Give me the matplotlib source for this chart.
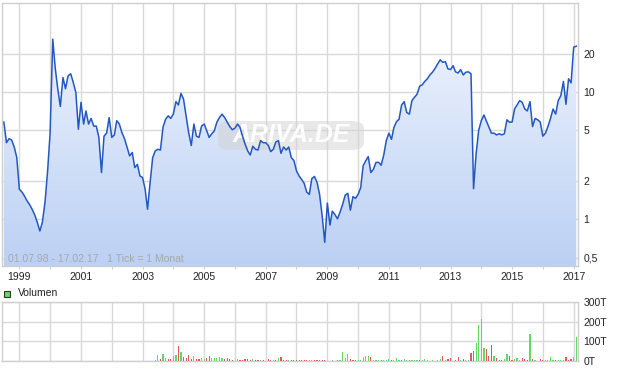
import numpy as np
import pandas as pd
import matplotlib
matplotlib.use('Agg')
import matplotlib.pyplot as plt
import matplotlib.dates as mdates
from matplotlib.patches import FancyBboxPatch, Rectangle
from matplotlib.colors import LinearSegmentedColormap
from matplotlib.image import AxesImage
from matplotlib.ticker import FixedLocator, FuncFormatter, NullLocator

plt.rcParams['font.family'] = ['Liberation Sans', 'DejaVu Sans']

# ---------------- data ----------------
start_month = '1998-07-01'
price = [
    5.8, 4.0, 4.3, 4.2, 3.7, 3.07, 1.72, 1.64, 1.53, 1.40, 1.31, 1.2,
    1.09, 0.95, 0.81, 0.95, 1.36, 2.35, 4.8, 26, 15.5, 10.5, 7.7, 13.0,
    10.6, 13.4, 13.9, 11.9, 9.9, 5.1, 8.3, 5.6, 7.1, 5.6, 6.2, 5.4,
    5.4, 4.4, 2.33, 4.5, 4.75, 6.3, 4.4, 4.6, 5.95, 5.6, 4.8, 4.3,
    3.7, 3.15, 3.35, 2.55, 2.7, 2.19, 2.13, 1.72, 1.2, 1.95, 3.05, 3.45,
    3.55, 3.5, 5.3, 6.1, 6.5, 6.2, 6.7, 8.4, 7.9, 9.75, 8.8, 6.5,
    4.8, 3.8, 5.6, 4.5, 4.4, 5.4, 5.6, 4.95, 4.4, 4.7, 4.95, 5.8,
    6.3, 6.7, 6.3, 5.8, 5.35, 5.05, 5.2, 5.6, 5.3, 4.5, 3.9, 3.45,
    3.2, 3.75, 3.55, 3.5, 4.15, 4.0, 4.0, 3.8, 3.4, 3.55, 4.05, 4.15,
    3.3, 3.7, 3.5, 3.7, 3.05, 2.9, 2.4, 2.19, 2.06, 1.92, 1.64, 1.57,
    2.09, 2.17, 1.95, 1.57, 1.06, 0.66, 1.34, 0.90, 1.16, 1.09, 1.01, 1.14,
    1.31, 1.55, 1.6, 1.18, 1.51, 1.46, 1.57, 1.78, 2.63, 2.88, 3.11, 2.33,
    2.47, 2.8, 2.8, 2.66, 3.2, 4.15, 4.75, 4.25, 5.25, 5.85, 6.1, 7.9,
    8.4, 6.9, 6.7, 8.55, 9.1, 9.6, 11.1, 11.4, 12.1, 12.7, 13.6, 14.3,
    15.3, 16.6, 17.9, 17.1, 17.3, 15.2, 15.0, 16.1, 14.4, 14.1, 15.0, 13.6,
    14.3, 14.4, 13.9, 1.74, 3.3, 5.0, 5.95, 6.6, 5.95, 5.3, 4.75, 4.75,
    4.6, 4.7, 4.6, 4.7, 6.05, 5.8, 5.8, 7.4, 7.9, 8.55, 8.3, 7.35,
    7.1, 8.4, 5.35, 6.2, 6.05, 5.8, 4.5, 4.75, 5.35, 6.2, 7.35, 6.7,
    8.55, 9.35, 12.1, 8.0, 12.7, 11.8, 22.5, 22.9,
]

vol_start_month = '2003-06-01'
volume_T = [
    7, 32, 12, 38, 17, 10, 12, 27, 32, 74, 48, 22,
    14, 32, 9, 27, 9, 9, 14, 12, 17, 27, 14, 14,
    17, 22, 17, 9, 14, 9, 3, 2, 12, 7, 7, 12,
    12, 7, 12, 3, 7, 7, 3, 0, 12, 3, 7, 3,
    17, 22, 3, 3, 7, 3, 3, 3, 3, 3, 7, 7,
    3, 3, 3, 3, 3, 3, 3, 0, 0, 7, 0, 3,
    3, 48, 17, 38, 12, 3, 7, 3, 3, 22, 27, 27,
    22, 3, 3, 3, 7, 3, 3, 12, 3, 7, 17, 7,
    3, 12, 3, 3, 7, 3, 7, 7, 7, 12, 7, 0,
    3, 0, 3, 12, 27, 3, 12, 17, 0, 3, 22, 7,
    12, 7, 7, 43, 53, 89, 181, 212, 68, 63, 27, 79,
    27, 17, 7, 7, 12, 38, 27, 7, 12, 17, 7, 17,
    12, 7, 135, 12, 7, 0, 12, 7, 7, 7, 22, 7,
    3, 7, 7, 7, 22, 7, 12, 22, 120,
]
vol_direction = (
    "ggrggrrggrgr" "rrrgrrggrrgg" "gggrrrrggrrr" "rrgrrgrrrrgr"
    "grrrgrrrrrrr" "ggrrrrrgggrr" "ggggrrrggggg" "rgggrgggrggg"
    "rggrgggrgggg" "ggggrgrrrrrg" "rggrrggggrrr" "grrrggrrgggr"
    "rrgrggrrgggg" "rgggrrrgg"
)

year_ticks = list(range(1999, 2018))
price_ticks = [0.5, 1, 2, 5, 10, 20]
price_tick_labels = ['0,5', '1', '2', '5', '10', '20']
vol_ticks = [0, 100, 200, 300]
vol_tick_labels = ['0T', '100T', '200T', '300T']
period_text = '01.07.98 - 17.02.17   1 Tick = 1 Monat'
legend_text = 'Volumen'
watermark = 'ARIVA.DE'

# ---------------- figure ----------------
W, H = 620, 371
fig = plt.figure(figsize=(W / 100, H / 100), dpi=100)
fig.patch.set_facecolor('white')

dates = pd.date_range(start_month, periods=len(price), freq='MS')
vdates = pd.date_range(vol_start_month, periods=len(volume_T), freq='MS')
xlim = (pd.Timestamp('1998-06-09'), pd.Timestamp('2017-02-21'))

grid_c = '#d9d9d9'
spine_c = '#cfcfcf'
text_c = '#222222'

ax = fig.add_axes([2 / W, 1 - 266 / H, 576 / W, 263 / H])
axv = fig.add_axes([2 / W, 1 - 361 / H, 576 / W, 59 / H])

# price panel
ax.set_yscale('log')
ax.set_xlim(*xlim)
ax.set_ylim(0.43, 50)

poly = ax.fill_between(dates, price, 0.01, facecolor='none', edgecolor='none')
cmap = LinearSegmentedColormap.from_list('fill', ['#bbd0f4', '#f3f7fe'])
im = AxesImage(ax, cmap=cmap, extent=(0, 1, 0, 1), origin='lower',
               interpolation='bilinear')
im.set_data(np.linspace(0, 1, 256).reshape(-1, 1))
im.set_transform(ax.transAxes)
im.set_zorder(1)
ax.add_artist(im)
im.set_clip_path(poly.get_paths()[0], ax.transData)

ax.plot(dates, price, color='#2358c2', lw=1.1, zorder=4,
        solid_joinstyle='round')

year_pos = [mdates.date2num(pd.Timestamp(f'{y}-01-01')) for y in year_ticks]
ax.xaxis.set_major_locator(FixedLocator(year_pos))
ax.xaxis.set_major_formatter(FuncFormatter(
    lambda v, p: str(mdates.num2date(v).year) if mdates.num2date(v).year % 2 == 1 else ''))
ax.xaxis.set_minor_locator(NullLocator())
ax.yaxis.set_major_locator(FixedLocator(price_ticks))
ax.yaxis.set_major_formatter(FuncFormatter(
    lambda v, p: price_tick_labels[price_ticks.index(v)] if v in price_ticks else ''))
ax.yaxis.set_minor_locator(NullLocator())
ax.yaxis.tick_right()
ax.tick_params(axis='y', length=0, pad=4, labelsize=7.5, labelcolor=text_c)
ax.tick_params(axis='x', length=2.5, color=spine_c, pad=1.5, labelsize=7.5,
               labelcolor=text_c)
ax.grid(True, color=grid_c, lw=1, zorder=0)
ax.set_axisbelow(True)
for s in ax.spines.values():
    s.set_color(spine_c)
    s.set_linewidth(1)

# watermark
wm = FancyBboxPatch((218 / W, 1 - 150 / H), 146 / W, 29 / H,
                    boxstyle='round,pad=0,rounding_size=0.02',
                    transform=fig.transFigure, facecolor='#d2d2d2',
                    edgecolor='none', alpha=0.5, zorder=2)
ax.add_artist(wm)
ax.text(291 / W, 1 - 135.5 / H, watermark, transform=fig.transFigure,
        ha='center', va='center', fontsize=18, fontweight='bold',
        fontstyle='italic', color='white', alpha=0.95, zorder=3)

ax.text(8 / W, 1 - 259 / H, period_text, transform=fig.transFigure,
        ha='left', va='center', fontsize=7.5, color='#a8a8a8', zorder=5)

# volume panel
vcolors = ['#63d863' if d == 'g' else '#e05858' for d in vol_direction]
axv.bar(vdates, volume_T, width=14, color=vcolors, zorder=3,
        linewidth=0, antialiased=False)
axv.set_xlim(*xlim)
axv.set_ylim(0, 300)
axv.xaxis.set_major_locator(FixedLocator(year_pos))
axv.xaxis.set_major_formatter(FuncFormatter(lambda v, p: ''))
axv.yaxis.set_major_locator(FixedLocator(vol_ticks))
axv.set_yticklabels(vol_tick_labels)
axv.yaxis.tick_right()
axv.tick_params(axis='y', length=0, pad=4, labelsize=7.5, labelcolor=text_c)
axv.tick_params(axis='x', length=0)
axv.grid(True, color=grid_c, lw=1, zorder=0)
axv.set_axisbelow(True)
for s in axv.spines.values():
    s.set_color(spine_c)
    s.set_linewidth(1)

# volume legend
fig.patches.append(Rectangle((3.5 / W, 1 - 297 / H), 6.5 / W, 6.5 / H,
                             transform=fig.transFigure, facecolor='#63d863',
                             edgecolor='#333333', lw=0.8))
fig.text(18 / W, 1 - 293.5 / H, legend_text, ha='left', va='center',
         fontsize=7.5, color=text_c)

fig.savefig('out.png', dpi=100)
